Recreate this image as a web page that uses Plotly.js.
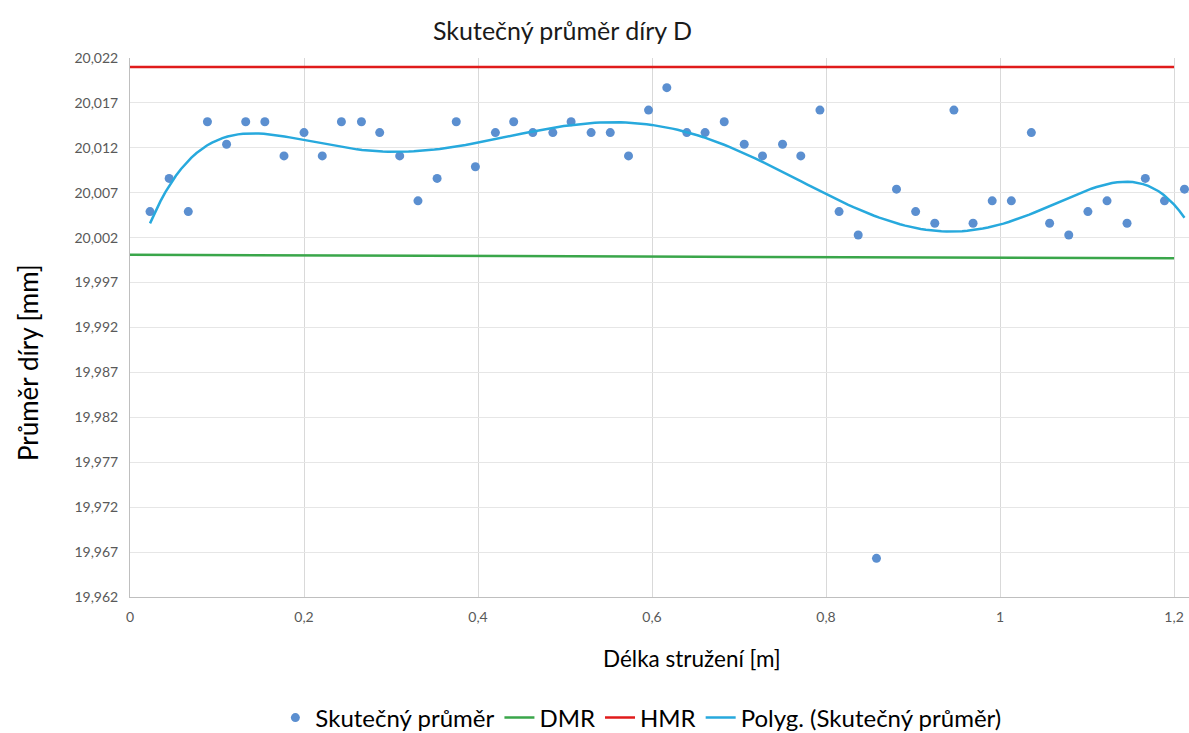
<!DOCTYPE html>
<html>
<head>
<meta charset="utf-8">
<script src="https://cdn.plot.ly/plotly-3.0.1.min.js"></script>
<style>html,body{margin:0;padding:0;background:#fff;}#chart{width:1189px;height:733px;}</style>
</head>
<body>
<div id="chart"></div>
<script>
// Measured points: length of turning [m] vs. actual hole diameter [mm]
const delka = [0.023, 0.045, 0.067, 0.089, 0.111, 0.133, 0.155, 0.177, 0.200, 0.221,
  0.243, 0.266, 0.287, 0.310, 0.331, 0.353, 0.375, 0.397, 0.420, 0.441,
  0.463, 0.486, 0.507, 0.530, 0.552, 0.573, 0.596, 0.617, 0.640, 0.661,
  0.683, 0.706, 0.727, 0.750, 0.771, 0.793, 0.815, 0.837, 0.858, 0.881,
  0.903, 0.925, 0.947, 0.969, 0.991, 1.013, 1.036, 1.057, 1.079, 1.101,
  1.123, 1.146, 1.167, 1.189, 1.212];
const prumer = [20.0049, 20.0086, 20.0049, 20.0149, 20.0124, 20.0149, 20.0149, 20.0111, 20.0137, 20.0111,
  20.0149, 20.0149, 20.0137, 20.0111, 20.0061, 20.0086, 20.0149, 20.0099, 20.0137, 20.0149,
  20.0137, 20.0137, 20.0149, 20.0137, 20.0137, 20.0111, 20.0162, 20.0187, 20.0137, 20.0137,
  20.0149, 20.0124, 20.0111, 20.0124, 20.0111, 20.0162, 20.0049, 20.0023, 19.9663, 20.0074,
  20.0049, 20.0036, 20.0162, 20.0036, 20.0061, 20.0061, 20.0137, 20.0036, 20.0023, 20.0049,
  20.0061, 20.0036, 20.0086, 20.0061, 20.0074];
// Tolerance limits
const mezX = [0, 1.2];
const dmr = [20.0001, 19.9997];
const hmr = [20.021, 20.021];
const xTicks = [0, 0.2, 0.4, 0.6, 0.8, 1, 1.2];

// Excel-style polynomial trendline (order 6) fitted to the measured points
function polyfit(xs, ys, deg) {
  const n = xs.length;
  const mx = xs.reduce((a, b) => a + b, 0) / n;
  const sx = Math.max(...xs.map(v => Math.abs(v - mx)));
  const my = ys.reduce((a, b) => a + b, 0) / n;
  const m = deg + 1;
  const A = Array.from({length: m}, () => new Array(m + 1).fill(0));
  for (let k = 0; k < n; k++) {
    const u = (xs[k] - mx) / sx;
    const p = [];
    for (let i = 0; i < m; i++) p.push(Math.pow(u, i));
    for (let i = 0; i < m; i++) {
      for (let j = 0; j < m; j++) A[i][j] += p[i] * p[j];
      A[i][m] += p[i] * (ys[k] - my);
    }
  }
  for (let c = 0; c < m; c++) {
    let piv = c;
    for (let r = c + 1; r < m; r++) if (Math.abs(A[r][c]) > Math.abs(A[piv][c])) piv = r;
    [A[c], A[piv]] = [A[piv], A[c]];
    for (let r = 0; r < m; r++) {
      if (r === c) continue;
      const f = A[r][c] / A[c][c];
      for (let j = c; j <= m; j++) A[r][j] -= f * A[c][j];
    }
  }
  const coef = A.map((row, i) => row[m] / row[i]);
  return x => {
    const u = (x - mx) / sx;
    let s = 0;
    for (let i = 0; i < m; i++) s += coef[i] * Math.pow(u, i);
    return s + my;
  };
}
const fit = polyfit(delka, prumer, 6);
const trendX = [], trendY = [];
const x0 = delka[0], x1 = delka[delka.length - 1];
for (let i = 0; i <= 200; i++) {
  const x = x0 + (x1 - x0) * i / 200;
  trendX.push(x);
  trendY.push(fit(x));
}

const FONT = 'Lato, "Noto Sans", sans-serif';
const traces = [
  {x: delka, y: prumer, type: 'scatter', mode: 'markers', name: 'Skutečný průměr',
   marker: {color: '#5b8fd0', size: 9}},
  {x: mezX, y: dmr, type: 'scatter', mode: 'lines', name: 'DMR',
   line: {color: '#3aa64a', width: 2.5}},
  {x: mezX, y: hmr, type: 'scatter', mode: 'lines', name: 'HMR',
   line: {color: '#e01b1b', width: 2.5}},
  {x: trendX, y: trendY, type: 'scatter', mode: 'lines', name: 'Polyg. (Skutečný průměr)',
   line: {color: '#27a9dd', width: 2.5}}
];
const layout = {
  width: 1189, height: 733,
  margin: {l: 130, r: 0, t: 58, b: 136, autoexpand: false},
  paper_bgcolor: '#ffffff', plot_bgcolor: '#ffffff',
  separators: ', ',
  font: {family: FONT, color: '#000000'},
  showlegend: true,
  legend: {orientation: 'h', xref: 'container', yref: 'container', x: 0.539, xanchor: 'center',
           y: 0.0205, yanchor: 'middle',
           font: {family: FONT, size: 24, color: '#000'}, traceorder: 'normal'},
  xaxis: {
    range: [0, 1.2172], tickvals: xTicks, ticks: '',
    showgrid: true, gridcolor: '#d9d9d9', gridwidth: 1,
    showline: true, linecolor: '#bfbfbf', linewidth: 1, zeroline: false,
    tickfont: {family: FONT, size: 14, color: '#595959'}, ticklabelstandoff: 7
  },
  yaxis: {
    range: [19.962, 20.022], tick0: 19.962, dtick: 0.005, tickformat: '.3f', ticks: '',
    showgrid: true, gridcolor: '#e6e6e6', gridwidth: 1,
    showline: true, linecolor: '#bfbfbf', linewidth: 1, zeroline: false,
    tickfont: {family: FONT, size: 14, color: '#595959'}, ticklabelstandoff: 8
  },
  annotations: [
    {text: 'Skutečný průměr díry D', xref: 'paper', yref: 'paper', x: 0.408, y: 1.0514,
     xanchor: 'center', yanchor: 'middle', showarrow: false,
     font: {family: FONT, size: 25, color: '#1a1a1a'}},
    {text: 'Délka stružení [m]', xref: 'paper', yref: 'paper', x: 0.5307, y: -0.1137,
     xanchor: 'center', yanchor: 'middle', showarrow: false,
     font: {family: FONT, size: 22.5, color: '#000'}},
    {text: 'Průměr díry [mm]', xref: 'paper', yref: 'paper', x: -0.0963, y: 0.434,
     xanchor: 'center', yanchor: 'middle', showarrow: false, textangle: -90,
     font: {family: FONT, size: 26, color: '#000'}}
  ]
};
Plotly.newPlot('chart', traces, layout, {displayModeBar: false, staticPlot: true});
</script>
</body>
</html>
